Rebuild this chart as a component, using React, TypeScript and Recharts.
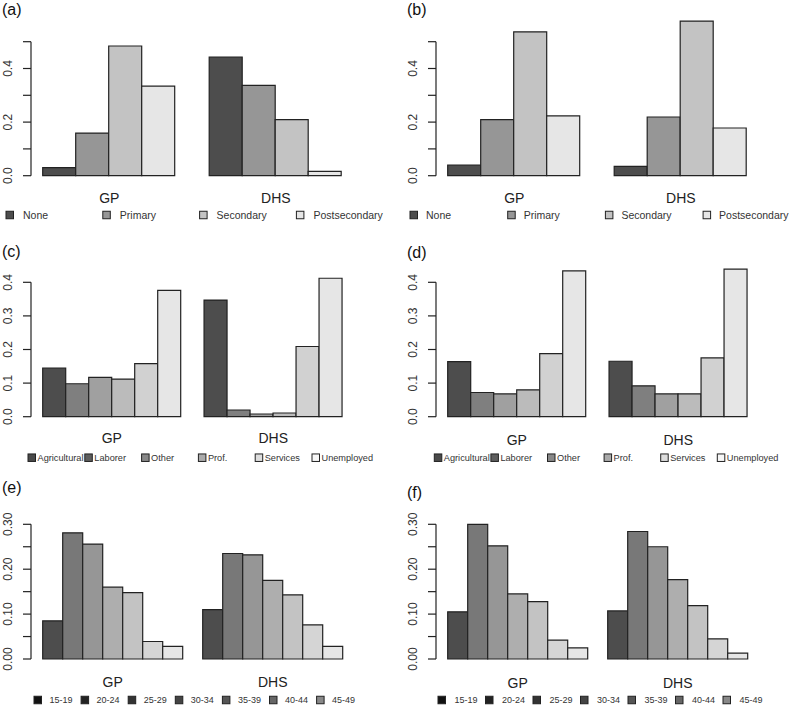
import React from 'react';
import { BarChart, Bar, XAxis, YAxis } from 'recharts';

const FONT = '"Liberation Sans", Arial, Helvetica, sans-serif';
const INK = '#222222';

const groups = ['GP', 'DHS'];

// (a) / (b) education
const educationLevels = ['None', 'Primary', 'Secondary', 'Postsecondary'];
const educationGpA = [0.030, 0.159, 0.484, 0.334];
const educationDhsA = [0.443, 0.337, 0.209, 0.016];
const educationGpB = [0.040, 0.209, 0.537, 0.223];
const educationDhsB = [0.035, 0.219, 0.577, 0.178];
const educationColors = ['#4d4d4d', '#969696', '#c3c3c3', '#e6e6e6'];
const educationTicks = [0, 0.1, 0.2, 0.3, 0.4, 0.5];

// (c) / (d) occupation
const occupations = ['Agricultural', 'Laborer', 'Other', 'Prof.', 'Services', 'Unemployed'];
const occupationGpC = [0.145, 0.098, 0.117, 0.112, 0.158, 0.376];
const occupationDhsC = [0.347, 0.020, 0.008, 0.011, 0.209, 0.412];
const occupationGpD = [0.164, 0.072, 0.068, 0.080, 0.188, 0.434];
const occupationDhsD = [0.165, 0.092, 0.068, 0.068, 0.175, 0.439];
const occupationColors = ['#4d4d4d', '#7f7f7f', '#a0a0a0', '#bbbbbb', '#d1d1d1', '#e6e6e6'];
const occupationLegendColors = ['#4a4a4a', '#5e5e5e', '#888888', '#aaaaaa', '#dddddd', '#f7f7f7'];
const occupationTicks = [0, 0.1, 0.2, 0.3, 0.4];

// (e) / (f) age
const ageGroups = ['15-19', '20-24', '25-29', '30-34', '35-39', '40-44', '45-49'];
const ageGpE = [0.085, 0.281, 0.256, 0.160, 0.148, 0.039, 0.028];
const ageDhsE = [0.110, 0.235, 0.232, 0.175, 0.143, 0.076, 0.028];
const ageGpF = [0.105, 0.300, 0.252, 0.145, 0.128, 0.042, 0.025];
const ageDhsF = [0.107, 0.284, 0.250, 0.177, 0.119, 0.045, 0.013];
const ageColors = ['#4d4d4d', '#787878', '#969696', '#aeaeae', '#c3c3c3', '#d5d5d5', '#e6e6e6'];
const ageLegendColors = ['#111111', '#222222', '#333333', '#444444', '#555555', '#666666', '#888888'];
const ageTicks = [0, 0.05, 0.1, 0.15, 0.2, 0.25, 0.3];

const fmt1 = (v: number) => v.toFixed(1);
const fmt2 = (v: number) => v.toFixed(2);
const everyOther = (v: number) => Math.round(v * 10) % 2 === 0;
const tenths = (v: number) => Math.round(v * 100) % 10 === 0;
const all = () => true;

const panels = [
  {
    tag: '(a)', tagX: 2, tagY: 15,
    left: 0, top: 0, height: 230, axisX: 31, zeroY: 175.7, ppu: 268, barW: 33.3, firstBar: 42.7,
    domainMax: 0.6, ticks: educationTicks, labeled: everyOther, fmt: fmt1, groupY: 202.7,
    levels: educationLevels, gp: educationGpA, dhs: educationDhsA, colors: educationColors,
    legendColors: educationColors, legendY: 215, legendX0: 6, legendStep: 96.8, legendText: 17, legendFont: 10.5,
  },
  {
    tag: '(b)', tagX: 407, tagY: 15,
    left: 395, top: 0, height: 230, axisX: 436, zeroY: 175.7, ppu: 268, barW: 33.3, firstBar: 447.7,
    domainMax: 0.6, ticks: educationTicks, labeled: everyOther, fmt: fmt1, groupY: 203.3,
    levels: educationLevels, gp: educationGpB, dhs: educationDhsB, colors: educationColors,
    legendColors: educationColors, legendY: 215, legendX0: 410, legendStep: 97.7, legendText: 16, legendFont: 10.5,
  },
  {
    tag: '(c)', tagX: 2, tagY: 257.3,
    left: 0, top: 230, height: 240, axisX: 31, zeroY: 416.7, ppu: 336, barW: 23.05, firstBar: 42.7,
    domainMax: 0.5, ticks: occupationTicks, labeled: all, fmt: fmt1, groupY: 213.3,
    levels: occupations, gp: occupationGpC, dhs: occupationDhsC, colors: occupationColors,
    legendColors: occupationLegendColors, legendY: 457.7, legendX0: 28, legendStep: 56.8, legendText: 9.5, legendFont: 9.2,
  },
  {
    tag: '(d)', tagX: 407, tagY: 258,
    left: 395, top: 230, height: 240, axisX: 436, zeroY: 416.7, ppu: 336, barW: 23.05, firstBar: 447.7,
    domainMax: 0.5, ticks: occupationTicks, labeled: all, fmt: fmt1, groupY: 215,
    levels: occupations, gp: occupationGpD, dhs: occupationDhsD, colors: occupationColors,
    legendColors: occupationLegendColors, legendY: 457.7, legendX0: 434.3, legendStep: 56.6, legendText: 9.5, legendFont: 9.2,
  },
  {
    tag: '(e)', tagX: 2, tagY: 492.6,
    left: 0, top: 470, height: 237, axisX: 31, zeroY: 659, ppu: 449, barW: 20, firstBar: 42.7,
    domainMax: 0.35, ticks: ageTicks, labeled: tenths, fmt: fmt2, groupY: 216.7,
    levels: ageGroups, gp: ageGpE, dhs: ageDhsE, colors: ageColors,
    legendColors: ageLegendColors, legendY: 700, legendX0: 34, legendStep: 47.1, legendText: 15.5, legendFont: 9,
  },
  {
    tag: '(f)', tagX: 407, tagY: 498,
    left: 395, top: 470, height: 237, axisX: 436, zeroY: 659, ppu: 449, barW: 20, firstBar: 447.7,
    domainMax: 0.35, ticks: ageTicks, labeled: tenths, fmt: fmt2, groupY: 218.3,
    levels: ageGroups, gp: ageGpF, dhs: ageDhsF, colors: ageColors,
    legendColors: ageLegendColors, legendY: 700, legendX0: 438, legendStep: 47.5, legendText: 16.5, legendFont: 9,
  },
];

const Panel = ({ cfg }: { cfg: any }) => {
  const n = cfg.levels.length;
  const width = 395;
  const xAxisH = 30;
  const plotLeft = cfg.firstBar - cfg.barW / 2 - cfg.left;
  const plotWidth = 2 * (n + 1) * cfg.barW;
  const plotBottom = cfg.zeroY - cfg.top;
  const plotHeight = cfg.domainMax * cfg.ppu;
  const axisLocal = cfg.axisX - cfg.left;
  const axisTop = cfg.ticks[cfg.ticks.length - 1];

  const data = groups.map((g, gi) => {
    const row: any = { group: g };
    cfg.levels.forEach((l: string, i: number) => {
      row[l] = (gi === 0 ? cfg.gp : cfg.dhs)[i];
    });
    return row;
  });

  const yTick = (p: any) => {
    const v = p.payload.value;
    const y = p.y;
    return (
      <g>
        <line x1={axisLocal - 8} x2={axisLocal} y1={y} y2={y} stroke={INK} strokeWidth={1.2} />
        {v === 0 && (
          <line x1={axisLocal} x2={axisLocal} y1={y} y2={y - axisTop * cfg.ppu} stroke={INK} strokeWidth={1.2} />
        )}
        {cfg.labeled(v) && (
          <text
            transform={`translate(${axisLocal - 19},${y}) rotate(-90)`}
            textAnchor="middle"
            fontSize={12}
            fontFamily={FONT}
            fill="#333"
          >
            {cfg.fmt(v)}
          </text>
        )}
      </g>
    );
  };

  const xTick = (p: any) => (
    <text x={p.x} y={cfg.groupY} textAnchor="middle" fontSize={14} fontFamily={FONT} fill="#222">
      {p.payload.value}
    </text>
  );

  return (
    <div style={{ position: 'absolute', left: cfg.left, top: cfg.top, width, height: cfg.height }}>
      <BarChart
        width={width}
        height={cfg.height}
        data={data}
        margin={{
          top: plotBottom - plotHeight,
          left: 0,
          right: width - plotLeft - plotWidth,
          bottom: cfg.height - plotBottom - xAxisH,
        }}
        barCategoryGap={cfg.barW / 2}
        barGap={0}
      >
        <XAxis dataKey="group" height={xAxisH} axisLine={false} tickLine={false} tick={xTick} interval={0} />
        <YAxis
          width={plotLeft}
          domain={[0, cfg.domainMax]}
          ticks={cfg.ticks}
          interval={0}
          axisLine={false}
          tickLine={false}
          tick={yTick}
        />
        {cfg.levels.map((l: string, i: number) => (
          <Bar
            key={l}
            dataKey={l}
            fill={cfg.colors[i]}
            stroke={INK}
            strokeWidth={1.2}
            isAnimationActive={false}
          />
        ))}
      </BarChart>
    </div>
  );
};

export default function App() {
  return (
    <div style={{ position: 'absolute', left: 0, top: 0, width: 790, height: 707, background: '#fff', overflow: 'hidden' }}>
      {panels.map((cfg) => (
        <Panel key={cfg.tag} cfg={cfg} />
      ))}
      <svg width={790} height={707} style={{ position: 'absolute', left: 0, top: 0, pointerEvents: 'none' }}>
        {panels.map((cfg) => (
          <g key={cfg.tag}>
            <text x={cfg.tagX} y={cfg.tagY} fontSize={16} fontFamily={FONT} fill="#111">
              {cfg.tag}
            </text>
            {cfg.levels.map((l: string, i: number) => {
              const sx = cfg.legendX0 + i * cfg.legendStep;
              return (
                <g key={l}>
                  <rect
                    x={sx}
                    y={cfg.legendY - 3.75}
                    width={7.5}
                    height={7.5}
                    fill={cfg.legendColors[i]}
                    stroke={INK}
                    strokeWidth={1}
                  />
                  <text
                    x={sx + cfg.legendText}
                    y={cfg.legendY + cfg.legendFont * 0.36}
                    fontSize={cfg.legendFont}
                    fontFamily={FONT}
                    fill="#333"
                  >
                    {l}
                  </text>
                </g>
              );
            })}
          </g>
        ))}
      </svg>
    </div>
  );
}
